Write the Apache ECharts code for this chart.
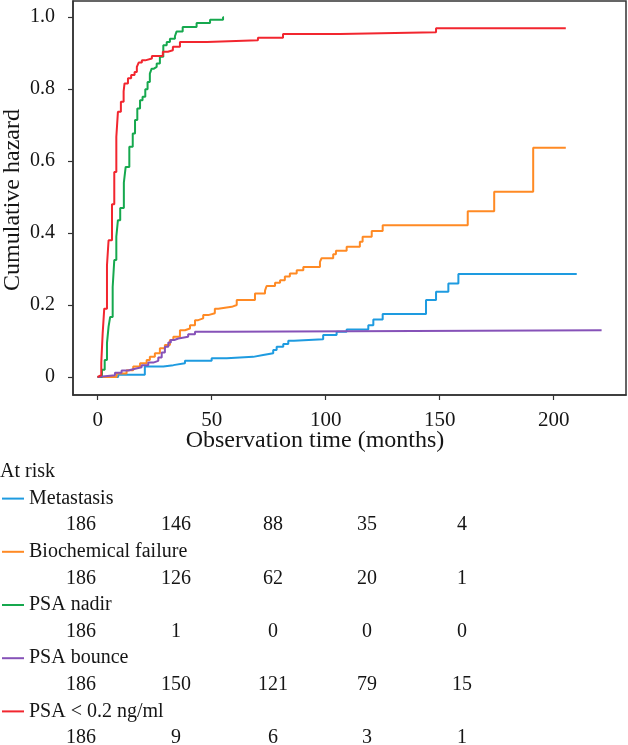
<!DOCTYPE html>
<html>
<head>
<meta charset="utf-8">
<script src="https://cdn.jsdelivr.net/npm/echarts@6/dist/echarts.min.js"></script>
<style>
html,body{margin:0;padding:0;background:#fff;}
#chart{width:628px;height:745px;}
</style>
</head>
<body>
<div id="chart"></div>
<script>
// ---- data ----
var seriesNames = ['Metastasis', 'Biochemical failure', 'PSA nadir', 'PSA bounce', 'PSA < 0.2 ng/ml'];
var seriesColors = ['#1e9be0', '#ff8a24', '#16a84e', '#8652b8', '#f2262f'];

var metastasis = [[0,0],[9,0.006],[20.7,0.029],[28.8,0.033],[33.2,0.038],[38.3,0.045],[50,0.052],[56.6,0.056],[68.2,0.061],[72.6,0.066],[77,0.075],[78.5,0.084],[81.4,0.092],[83.6,0.101],[86.1,0.105],[98.9,0.117],[104.8,0.126],[109.2,0.132],[118.7,0.144],[120.9,0.16],[125,0.175],[144,0.214],[148.4,0.237],[153.8,0.26],[158.2,0.286],[210.1,0.286]];

var biochemical = [[0,0],[8.3,0.01],[12.7,0.019],[15.6,0.029],[18.6,0.038],[21.5,0.047],[22.9,0.056],[25.1,0.066],[27.3,0.08],[29.5,0.089],[31.7,0.103],[33.2,0.112],[36.1,0.13],[38.3,0.135],[40.5,0.144],[42.7,0.158],[44.1,0.163],[46.3,0.172],[48.5,0.177],[51.4,0.19],[52.9,0.195],[58.8,0.2],[61,0.214],[69,0.232],[73.4,0.24],[74.1,0.253],[77.8,0.262],[80,0.269],[82.1,0.279],[84.3,0.288],[87.3,0.297],[90.2,0.306],[97.5,0.32],[98.2,0.33],[103.3,0.341],[104.5,0.351],[109.2,0.362],[115,0.376],[116.2,0.39],[120.2,0.406],[125,0.422],[162.3,0.461],[173.9,0.515],[191,0.637],[205.3,0.637]];

var psaNadir = [[0,0],[1.9,0.02],[3.1,0.047],[4.1,0.094],[4.8,0.14],[5.5,0.167],[6.6,0.25],[7.3,0.325],[8.2,0.39],[8.9,0.436],[9.9,0.47],[11.5,0.54],[12.3,0.584],[13.9,0.64],[15.4,0.677],[16.4,0.714],[17.4,0.746],[18.6,0.769],[19.7,0.779],[20.9,0.80],[21.9,0.82],[22.9,0.843],[23.7,0.857],[24.7,0.862],[25.9,0.871],[27.3,0.89],[28.8,0.922],[30.3,0.931],[31.7,0.94],[33.9,0.947],[34.6,0.96],[37.3,0.973],[43.4,0.984],[49.3,0.993],[55,1.0],[55.4,1.0]];

var psaBounce = [[0,0],[0.3,0.005],[7.6,0.012],[10.5,0.018],[13.4,0.022],[16,0.027],[19.3,0.033],[22.2,0.04],[24.4,0.045],[26.6,0.054],[28.1,0.068],[29.5,0.084],[31,0.096],[32.1,0.103],[33.6,0.107],[35.4,0.112],[39.7,0.119],[42.7,0.126],[55.8,0.13],[221,0.13]];

var psaLow = [[0,0],[0.6,0.005],[1.6,0.04],[2.2,0.12],[2.9,0.19],[4.1,0.31],[4.8,0.38],[6.3,0.48],[7.3,0.57],[8.2,0.667],[8.9,0.737],[10.2,0.765],[11.4,0.794],[11.8,0.816],[13.3,0.83],[14.7,0.839],[16.2,0.848],[17.2,0.862],[18,0.874],[19.4,0.88],[20.9,0.885],[23.8,0.892],[28.6,0.904],[30.8,0.908],[33,0.918],[36.1,0.931],[47.9,0.936],[70.3,0.943],[81.3,0.953],[106.3,0.958],[148.4,0.969],[205.3,0.969]];

var xTicks = [0, 50, 100, 150, 200];
var yTicks = [0, 0.2, 0.4, 0.6, 0.8, 1.0];
var xTitle = 'Observation time (months)';
var yTitle = 'Cumulative hazard';

var riskTitle = 'At risk';
var riskCounts = [
  [186, 146, 88, 35, 4],
  [186, 126, 62, 20, 1],
  [186, 1, 0, 0, 0],
  [186, 150, 121, 79, 15],
  [186, 9, 6, 3, 1]
];

// ---- chart ----
var FONT = '"Liberation Serif", "DejaVu Serif", serif';
var TXT = '#151515';
var allData = [metastasis, biochemical, psaNadir, psaBounce, psaLow];

var series = allData.map(function (d, i) {
  return {
    name: seriesNames[i],
    type: 'line',
    step: 'end',
    data: d,
    symbol: 'none',
    silent: true,
    lineStyle: { color: seriesColors[i], width: 2 },
    itemStyle: { color: seriesColors[i] },
    z: 2 + i
  };
});

var graphics = [];
// axis titles
graphics.push({
  type: 'text', x: 315, y: 441,
  style: { text: xTitle, font: '24px ' + FONT, fill: TXT, align: 'center', verticalAlign: 'middle' }
});
graphics.push({
  type: 'text', x: 13, y: 200, rotation: Math.PI / 2,
  style: { text: yTitle, font: '24px ' + FONT, fill: TXT, align: 'center', verticalAlign: 'middle' }
});

// at-risk table as text graphics
var colX = [81, 176, 273, 367, 462];
var rowStart = 472, rowStep = 26.6;
graphics.push({
  type: 'text', x: 0, y: rowStart,
  style: { text: riskTitle, font: '20px ' + FONT, fill: TXT, verticalAlign: 'middle', align: 'left' }
});
seriesNames.forEach(function (name, i) {
  var yLabel = rowStart + rowStep * (1 + 2 * i);
  var yNum = rowStart + rowStep * (2 + 2 * i);
  graphics.push({
    type: 'line',
    shape: { x1: 2, y1: yLabel, x2: 24, y2: yLabel },
    style: { stroke: seriesColors[i], lineWidth: 2 }
  });
  graphics.push({
    type: 'text', x: 29, y: yLabel,
    style: { text: name, font: '20px ' + FONT, fill: TXT, verticalAlign: 'middle', align: 'left' }
  });
  riskCounts[i].forEach(function (c, j) {
    graphics.push({
      type: 'text', x: colX[j], y: yNum,
      style: { text: String(c), font: '20px ' + FONT, fill: TXT, verticalAlign: 'middle', align: 'center' }
    });
  });
});

var chart = echarts.init(document.getElementById('chart'), null, { renderer: 'canvas' });
chart.setOption({
  animation: false,
  backgroundColor: '#fff',
  grid: {
    left: 73, top: 1, right: 2, bottom: 350,
    containLabel: false,
    outerBoundsMode: 'none',
    show: true, borderColor: '#333', borderWidth: 1.5, backgroundColor: 'transparent'
  },
  xAxis: {
    type: 'value',
    min: -10.8, max: 231.7,
    axisLine: { show: true, onZero: false, lineStyle: { color: '#333', width: 1.5 } },
    axisTick: { show: true, length: 5, lineStyle: { color: '#333', width: 1.2 }, customValues: xTicks },
    axisLabel: { fontFamily: FONT, fontSize: 21, color: TXT, margin: 15, customValues: xTicks },
    splitLine: { show: false }
  },
  yAxis: {
    type: 'value',
    min: -0.05, max: 1.045,
    axisLine: { show: true, onZero: false, lineStyle: { color: '#333', width: 1.5 } },
    axisTick: { show: true, length: 5, lineStyle: { color: '#333', width: 1.2 }, customValues: yTicks },
    axisLabel: {
      fontFamily: FONT, fontSize: 20, color: TXT, margin: 18, customValues: yTicks,
      formatter: function (v) { return v === 0 ? '0' : v.toFixed(1); }
    },
    splitLine: { show: false }
  },
  series: series,
  graphic: graphics
});
</script>
</body>
</html>
